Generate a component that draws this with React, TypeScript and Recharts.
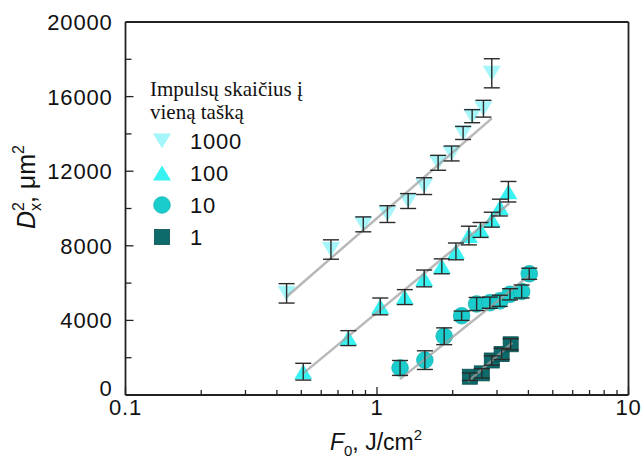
import React from "react";
import {
  ComposedChart, Scatter, Line, XAxis, YAxis, ErrorBar, ReferenceLine,
} from "recharts";

// ─────────────────────────────────────────────────────────────────────────────
// Data
// ─────────────────────────────────────────────────────────────────────────────

// 1000 pulses per spot
const f1000 = [0.437, 0.656, 0.882, 1.10, 1.33, 1.54, 1.75, 1.98, 2.20, 2.39, 2.65, 2.86];
const d1000 = [5450, 7800, 9150, 9700, 10400, 11200, 12450, 12950, 14050, 14950, 15350, 17250];
const e1000 = [520, 520, 400, 450, 400, 450, 400, 400, 350, 350, 450, 780];

// 100 pulses
const f100 = [0.509, 0.769, 1.03, 1.29, 1.54, 1.81, 2.06, 2.32, 2.58, 2.86, 3.08, 3.33];
const d100 = [1250, 3050, 4750, 5250, 6250, 6900, 7700, 8550, 8850, 9400, 10050, 10900];
const e100 = [450, 400, 450, 400, 450, 400, 450, 500, 400, 400, 450, 550];

// 10 pulses
const f10 = [1.235, 1.55, 1.85, 2.17, 2.49, 2.81, 3.08, 3.38, 3.76, 4.03];
const d10 = [1450, 1870, 3150, 4250, 4880, 4950, 5050, 5400, 5550, 6500];
const e10 = [400, 500, 450, 250, 350, 300, 300, 300, 350, 300];

// 1 pulse
const f1 = [2.34, 2.61, 2.86, 3.13, 3.40];
const d1 = [980, 1160, 1850, 2200, 2720];
const e1 = [200, 250, 250, 300, 300];

// linear fits in ln(F0): end points
const fit1000X = [0.437, 2.86];
const fit1000Y = [5270, 14830];
const fit100X = [0.509, 3.36];
const fit100Y = [1160, 10280];
const fit10X = [1.235, 4.03];
const fit10Y = [850, 6400];
const fit1X = [2.3, 3.45];
const fit1Y = [720, 2800];

const xTicks = [0.1, 0.2, 0.3, 0.4, 0.5, 0.6, 0.7, 0.8, 0.9, 1, 2, 3, 4, 5, 6, 7, 8, 9, 10];
const xLabels = [0.1, 1, 10];
const yTicks = [0, 2000, 4000, 6000, 8000, 10000, 12000, 14000, 16000, 18000, 20000];
const yLabels = [0, 4000, 8000, 12000, 16000, 20000];

const legendTitle = ["Impulsų skaičius į", "vieną tašką"];
const legendNames = ["1000", "100", "10", "1"];

// ─────────────────────────────────────────────────────────────────────────────
// Styling
// ─────────────────────────────────────────────────────────────────────────────

const AXIS = "#222";
const SANS = "'Liberation Sans', Arial, sans-serif";
const SERIF = "'Liberation Serif', 'Times New Roman', serif";
const C1000 = "#a4f6fa";
const C100 = "#38f2f2";
const C10 = "#1acccc";
const C1 = "#0d6b6b";
const FIT = "rgba(160,160,160,0.75)";

const pts = (xs: number[], ys: number[], es?: number[]) =>
  xs.map((x, i) => ({ x, y: ys[i], e: es ? es[i] : 0 }));

// ─────────────────────────────────────────────────────────────────────────────
// Marker shapes
// ─────────────────────────────────────────────────────────────────────────────

function DownTri({ cx, cy, fill }: any) {
  return <path d={`M${cx - 9},${cy - 7.5}L${cx + 9},${cy - 7.5}L${cx},${cy + 7.5}Z`} fill={fill} />;
}
function UpTri({ cx, cy, fill }: any) {
  return <path d={`M${cx - 9},${cy + 7.5}L${cx + 9},${cy + 7.5}L${cx},${cy - 7.5}Z`} fill={fill} />;
}
function Dot({ cx, cy, fill }: any) {
  return <circle cx={cx} cy={cy} r={8.3} fill={fill} stroke="#14b4b4" strokeWidth={0.8} />;
}
function Sq({ cx, cy, fill }: any) {
  return <rect x={cx - 7.5} y={cy - 7.5} width={15} height={15} fill={fill} stroke="#084e4e" strokeWidth={0.8} />;
}
function Empty() {
  return <g />;
}

// ─────────────────────────────────────────────────────────────────────────────
// Ticks (inward, Origin style)
// ─────────────────────────────────────────────────────────────────────────────

function XTick({ x, y, payload }: any) {
  const v = payload.value;
  const major = xLabels.includes(v);
  return (
    <g>
      <line x1={x} y1={y} x2={x} y2={y - (major ? 8 : 5)} stroke={AXIS} strokeWidth={1.3} />
      {major && (
        <text x={x} y={y + 20} textAnchor="middle" fontFamily={SANS} fontSize={22}
          letterSpacing={0.8} fill="#111">{v}</text>
      )}
    </g>
  );
}

function YTick({ x, y, payload }: any) {
  const v = payload.value;
  const major = yLabels.includes(v);
  return (
    <g>
      <line x1={x} y1={y} x2={x + (major ? 8 : 6)} y2={y} stroke={AXIS} strokeWidth={1.3} />
      {major && (
        <text x={x - 13} y={y + 8 - (v === 0 ? 7 : 0)} textAnchor="end" fontFamily={SANS}
          fontSize={22} letterSpacing={0.8} fill="#111">{v}</text>
      )}
    </g>
  );
}

// ─────────────────────────────────────────────────────────────────────────────
// Chart
// ─────────────────────────────────────────────────────────────────────────────

const markers = [
  { name: legendNames[0], Shape: DownTri, color: C1000 },
  { name: legendNames[1], Shape: UpTri, color: C100 },
  { name: legendNames[2], Shape: Dot, color: C10 },
  { name: legendNames[3], Shape: Sq, color: C1 },
];

export default function App() {
  const series = [
    { data: pts(f1000, d1000, e1000), fit: pts(fit1000X, fit1000Y), ...markers[0] },
    { data: pts(f100, d100, e100), fit: pts(fit100X, fit100Y), ...markers[1] },
    { data: pts(f10, d10, e10), fit: pts(fit10X, fit10Y), ...markers[2] },
    { data: pts(f1, d1, e1), fit: pts(fit1X, fit1Y), ...markers[3] },
  ];

  const lineZ: any = { zIndex: 650 };
  const errZ: any = { zIndex: 700 };

  return (
    <div style={{ position: "absolute", left: 0, top: 0, width: 641, height: 461, background: "#fff" }}>
      <ComposedChart width={641} height={461} margin={{ top: 22, right: 12.5, bottom: 0, left: 0 }}>
        <XAxis
          dataKey="x" type="number" scale="log" domain={[0.1, 10]} allowDataOverflow
          ticks={xTicks} interval={0} tick={<XTick />} tickLine={false}
          tickSize={0} tickMargin={0} height={66}
          axisLine={{ stroke: AXIS, strokeWidth: 1.8 }}
        />
        <YAxis
          dataKey="y" type="number" domain={[0, 20000]} ticks={yTicks} interval={0}
          tick={<YTick />} tickLine={false} tickSize={0} tickMargin={0} width={125.5}
          axisLine={{ stroke: AXIS, strokeWidth: 1.8 }}
        />
        <ReferenceLine y={20000} stroke={AXIS} strokeWidth={1.8} />
        <ReferenceLine x={10} stroke={AXIS} strokeWidth={1.8} />

        {/* markers */}
        {series.map((s) => (
          <Scatter key={s.name} data={s.data} dataKey="y" fill={s.color}
            shape={<s.Shape />} isAnimationActive={false} />
        ))}
        {/* fitted lines over the markers */}
        {series.map((s) => (
          <Line key={"fit" + s.name} data={s.fit} dataKey="y" stroke={FIT} strokeWidth={2.5}
            dot={false} activeDot={false} isAnimationActive={false} {...lineZ} />
        ))}
        {/* error bars on top */}
        {series.map((s) => (
          <Scatter key={"err" + s.name} data={s.data} dataKey="y" shape={<Empty />}
            isAnimationActive={false} {...errZ}>
            <ErrorBar dataKey="e" direction="y" width={8} stroke="#2a2a2a" strokeWidth={1.4} {...errZ} />
          </Scatter>
        ))}
      </ComposedChart>

      {/* titles + legend drawn on top */}
      <svg width={641} height={461} style={{ position: "absolute", left: 0, top: 0, pointerEvents: "none" }}>
        <text transform="translate(35,229) rotate(-90)" fontFamily={SANS} fontSize={25} fill="#111">
          <tspan fontStyle="italic">D</tspan>
          <tspan fontSize={16} dy={-11}>2</tspan>
          <tspan fontSize={16} dx={-9} dy={17}>x</tspan>
          <tspan dy={-6}>, μm</tspan>
          <tspan fontSize={16} dy={-11}>2</tspan>
        </text>
        <text x={376} y={450} textAnchor="middle" fontFamily={SANS} fontSize={23} fill="#111">
          <tspan fontStyle="italic">F</tspan>
          <tspan fontSize={15} dy={6}>0</tspan>
          <tspan dy={-6}>, J/cm</tspan>
          <tspan fontSize={15} dy={-10}>2</tspan>
        </text>

        {legendTitle.map((t, i) => (
          <text key={t} x={150} y={96 + i * 23} fontFamily={SERIF} fontSize={21} fill="#111">{t}</text>
        ))}
        {markers.map((m, i) => (
          <g key={m.name}>
            <m.Shape cx={162} cy={141 + i * 32} fill={m.color} />
            <text x={190} y={149 + i * 32} fontFamily={SANS} fontSize={22} letterSpacing={0.8} fill="#111">
              {m.name}
            </text>
          </g>
        ))}
      </svg>
    </div>
  );
}
